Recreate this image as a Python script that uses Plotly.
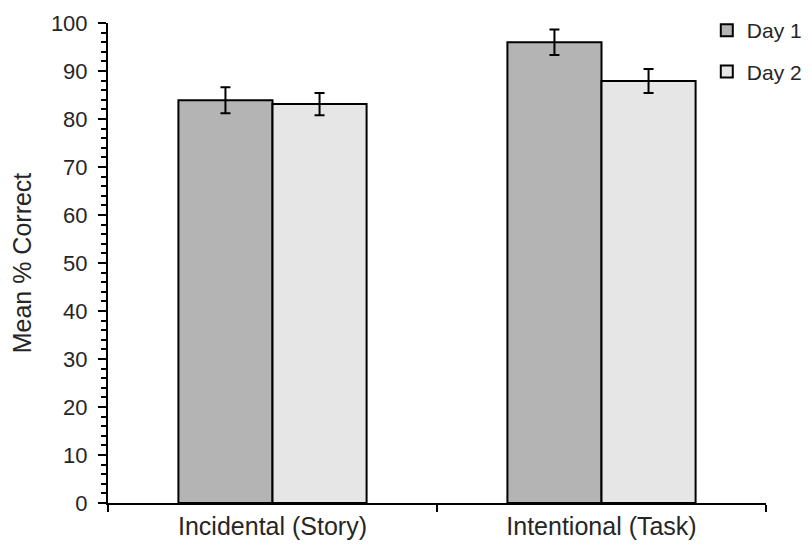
import plotly.graph_objects as go

categories = ["Incidental (Story)", "Intentional (Task)"]
day1_values = [83.9, 96.0]
day2_values = [83.1, 87.9]
day1_errors = [2.7, 2.65]
day2_errors = [2.3, 2.5]
series_names = ["Day 1", "Day 2"]
y_tick_values = list(range(0, 101, 10))

FONT = "Liberation Sans, Arial, sans-serif"
TEXT = "#262626"

fig = go.Figure()
fig.add_trace(go.Bar(
    x=categories, y=day1_values, name=series_names[0], legendgroup="d1",
    marker=dict(color="#b4b4b4", line=dict(color="#000000", width=2)),
    error_y=dict(type="data", array=day1_errors, visible=True,
                 color="#000000", thickness=2, width=5),
))
fig.add_trace(go.Bar(
    x=categories, y=day2_values, name=series_names[1], legendgroup="d2",
    marker=dict(color="#e6e6e6", line=dict(color="#000000", width=2)),
    error_y=dict(type="data", array=day2_errors, visible=True,
                 color="#000000", thickness=2, width=5),
))

# page body adds an 8px margin, so the figure is sized and offset accordingly
fig.update_layout(
    width=804, height=538,
    margin=dict(l=100, r=46, t=15, b=43, autoexpand=False),
    paper_bgcolor="white", plot_bgcolor="white",
    barmode="group", bargap=0.428, bargroupgap=0,
    font=dict(family=FONT, size=22, color=TEXT),
    showlegend=True,
    legend=dict(x=1.062, y=1.027, xanchor="right", yanchor="top",
                font=dict(family=FONT, size=21, color=TEXT),
                itemwidth=30, tracegroupgap=11, traceorder="grouped",
                bgcolor="rgba(0,0,0,0)"),
    xaxis=dict(
        type="category", showline=True, linecolor="#000000", linewidth=2,
        ticks="outside", tickson="boundaries", ticklen=7, tickwidth=2,
        tickcolor="#000000", showgrid=False, zeroline=False, automargin=False,
        tickfont=dict(family=FONT, size=25, color=TEXT),
    ),
    yaxis=dict(
        range=[0, 100], tickvals=y_tick_values, showline=True,
        linecolor="#000000", linewidth=2, ticks="outside", ticklen=8,
        tickwidth=2, tickcolor="#000000", showgrid=False, zeroline=False,
        automargin=False, ticklabelstandoff=6,
        tickfont=dict(family=FONT, size=22, color=TEXT),
        minor=dict(dtick=2, ticks="outside", ticklen=5, tickwidth=2,
                   tickcolor="#000000", showgrid=False),
        title=dict(text="Mean % Correct", font=dict(family=FONT, size=25, color=TEXT),
                   standoff=15),
    ),
)

fig.write_html("out.html")
